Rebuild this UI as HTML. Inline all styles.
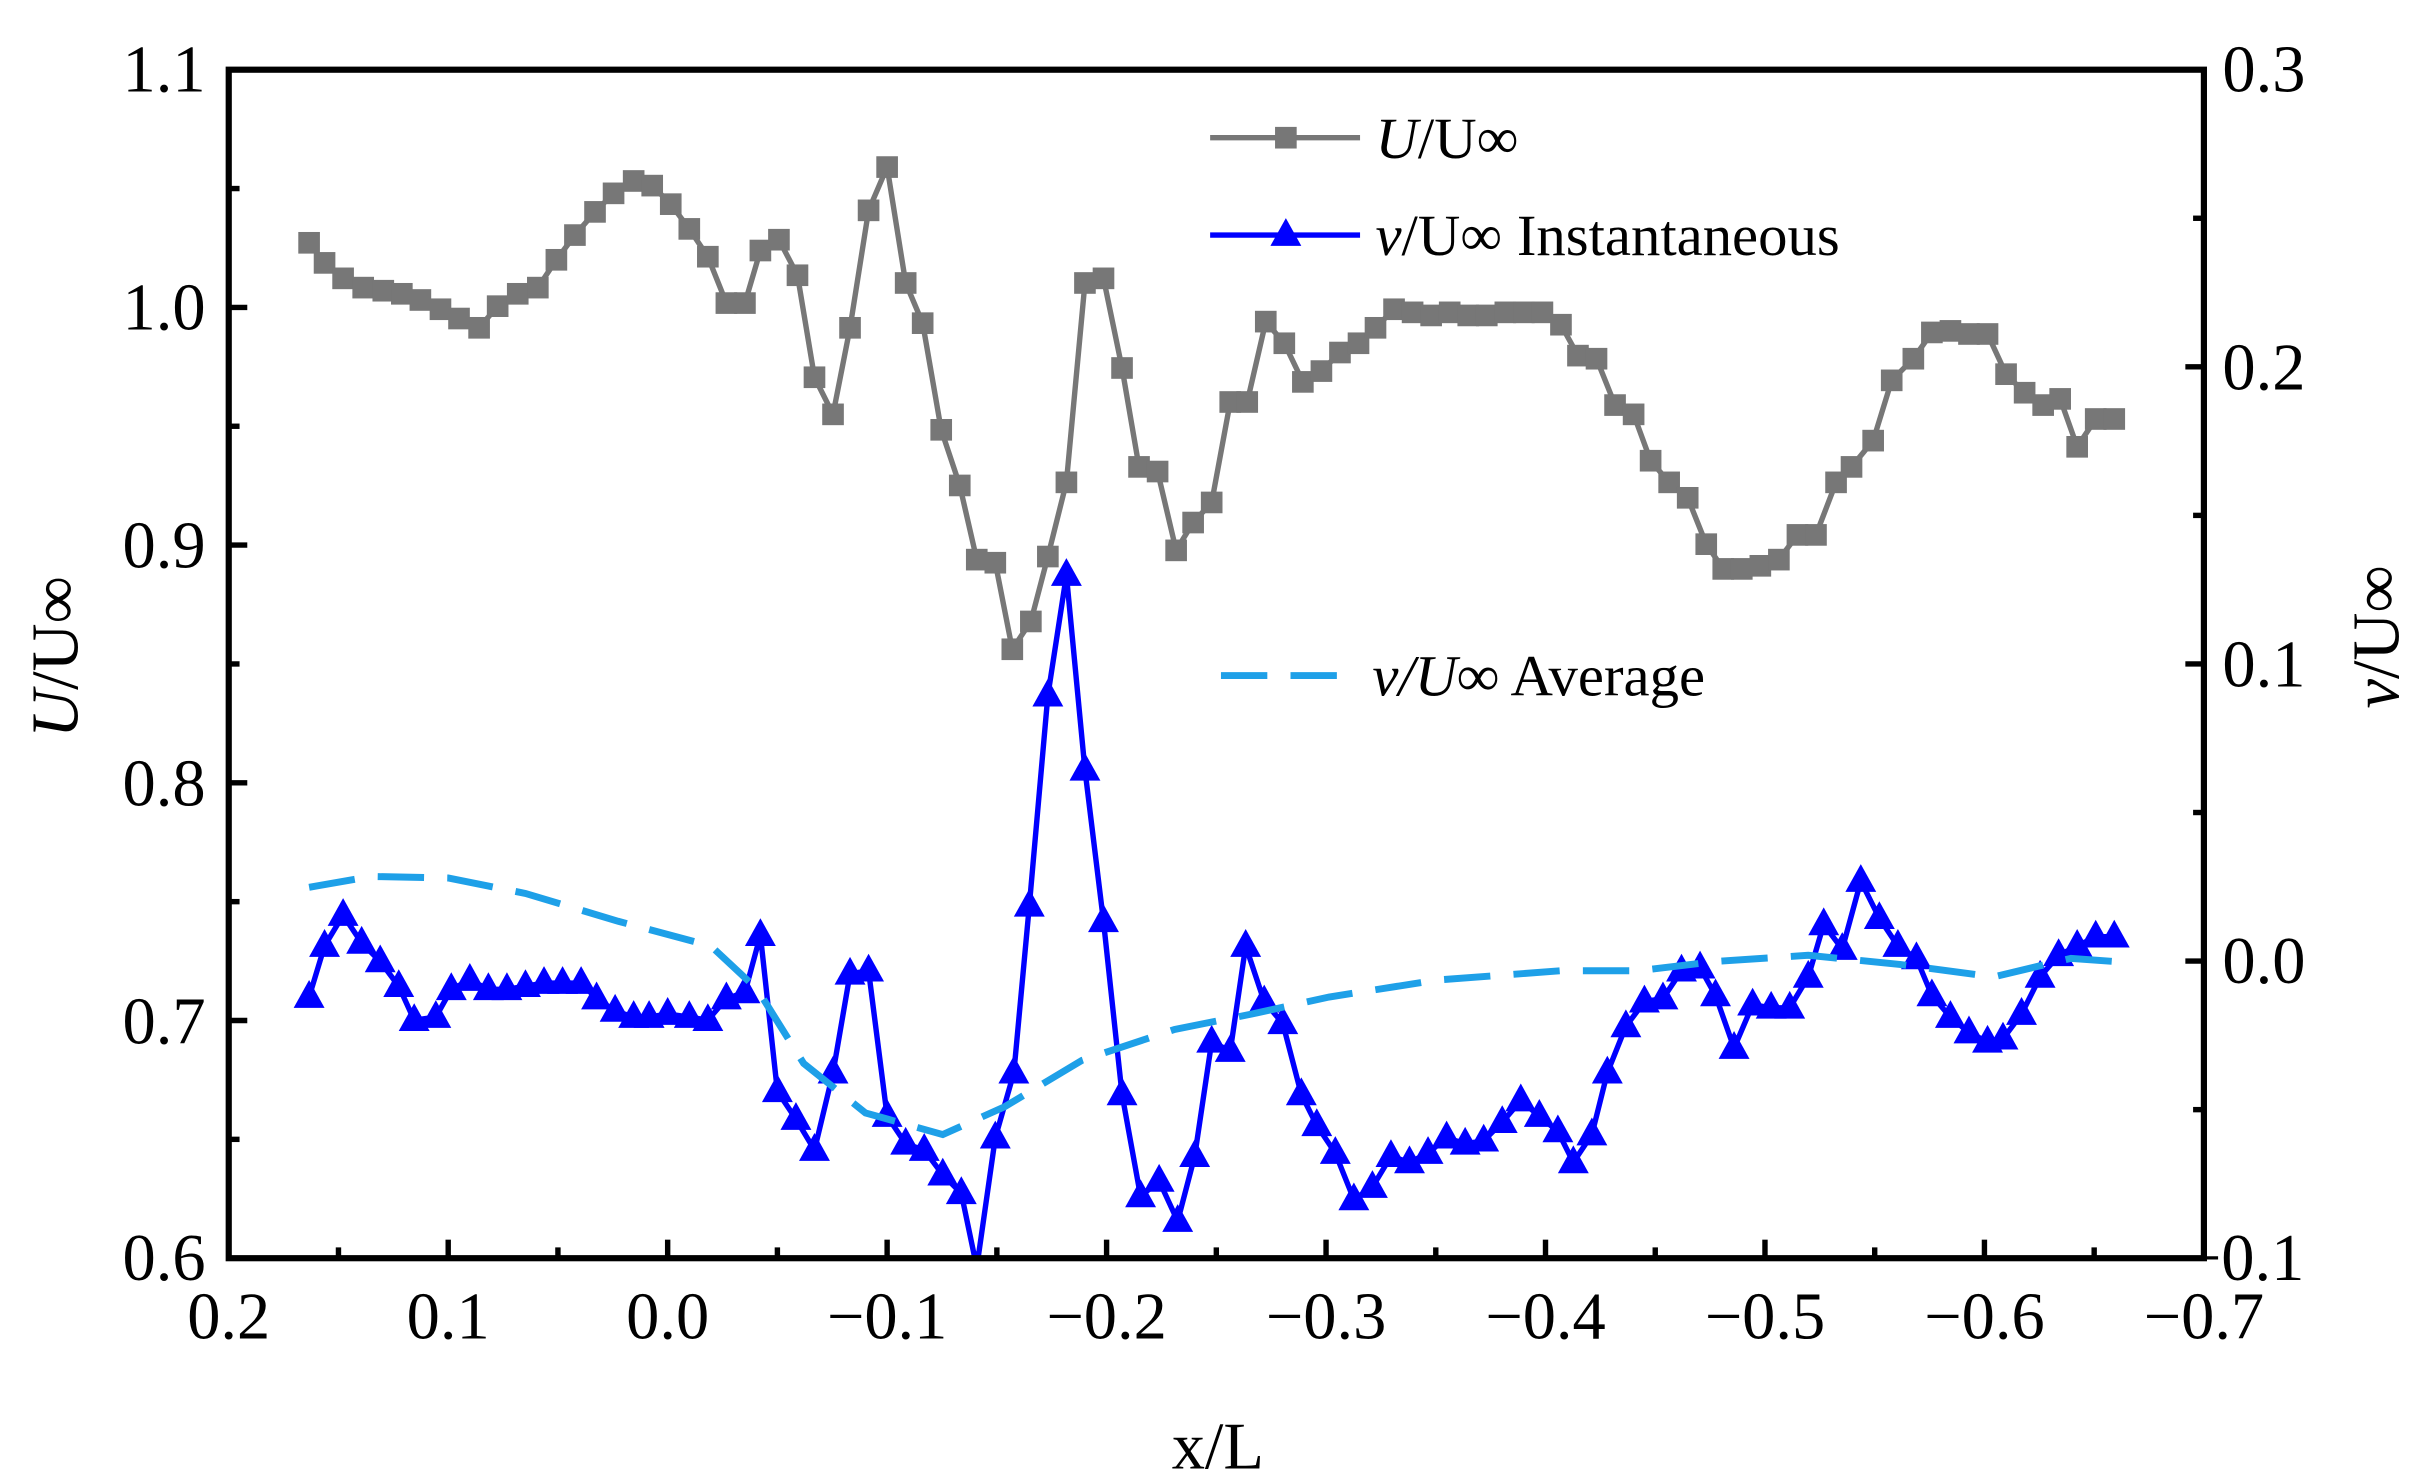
<!DOCTYPE html>
<html><head><meta charset="utf-8"><style>
html,body{margin:0;padding:0;background:#fff}
svg{display:block}
text{font-family:"Liberation Serif","DejaVu Serif",serif;fill:#000}
</style></head><body>
<svg id="s" width="2411" height="1484" viewBox="0 0 1560 960" xmlns="http://www.w3.org/2000/svg">
<rect x="0" y="0" width="1560" height="960" fill="#fff"/>
<g id="data"></g>
<rect x="148" y="45" width="1278" height="769" fill="none" stroke="#000" stroke-width="4"/>
<g id="ticks" stroke="#000" stroke-width="3.5"></g>
<g font-size="43">
<text x="133" y="59" text-anchor="end">1.1</text>
<text x="133" y="213" text-anchor="end">1.0</text>
<text x="133" y="367" text-anchor="end">0.9</text>
<text x="133" y="521" text-anchor="end">0.8</text>
<text x="133" y="675" text-anchor="end">0.7</text>
<text x="133" y="828" text-anchor="end">0.6</text>
<text x="1438" y="59">0.3</text>
<text x="1438" y="252">0.2</text>
<text x="1438" y="444">0.1</text>
<text x="1438" y="636">0.0</text>
<text x="1413" y="828">−0.1</text>
<text x="148" y="866" text-anchor="middle">0.2</text>
<text x="290" y="866" text-anchor="middle">0.1</text>
<text x="432" y="866" text-anchor="middle">0.0</text>
<text x="574" y="866" text-anchor="middle">−0.1</text>
<text x="716" y="866" text-anchor="middle">−0.2</text>
<text x="858" y="866" text-anchor="middle">−0.3</text>
<text x="1000" y="866" text-anchor="middle">−0.4</text>
<text x="1142" y="866" text-anchor="middle">−0.5</text>
<text x="1284" y="866" text-anchor="middle">−0.6</text>
<text x="1426" y="866" text-anchor="middle">−0.7</text>
<text x="788" y="950" text-anchor="middle">x/L</text>
<text transform="translate(50,425) rotate(-90)" text-anchor="middle"><tspan font-style="italic">U</tspan>/U∞</text>
<text transform="translate(1552,412) rotate(-90)" text-anchor="middle"><tspan font-style="italic">v</tspan>/U∞</text>
</g>
<g font-size="38">
<line x1="783" y1="89" x2="880" y2="89" stroke="#777" stroke-width="3.5"/>
<rect x="825" y="82" width="14" height="14" fill="#777"/>
<text x="890" y="102"><tspan font-style="italic">U</tspan>/U∞</text>
<line x1="783" y1="152" x2="880" y2="152" stroke="#0000ff" stroke-width="3.5"/>
<polygon points="832,141 842,159 822,159" fill="#0000ff"/>
<text x="890" y="165"><tspan font-style="italic">v</tspan>/U∞  Instantaneous</text>
<line x1="790" y1="437" x2="876" y2="437" stroke="#1ea0e8" stroke-width="4.5" stroke-dasharray="30,15"/>
<text x="888" y="450"><tspan font-style="italic">v/U∞</tspan>  Average</text>
</g>
</svg>
<script>
var NS="http://www.w3.org/2000/svg";
function el(t,a,p){var e=document.createElementNS(NS,t);for(var k in a)e.setAttribute(k,a[k]);p.appendChild(e);return e;}
var tk=document.getElementById("ticks");
for(var i=0;i<=10;i++){var y=45+i*76.9;var L=(i%2==0)?12:7;el("line",{x1:148,y1:y,x2:148+L,y2:y},tk);}
for(var i=0;i<=8;i++){var y=45+i*96.125;var L=(i%2==0)?12:7;el("line",{x1:1426,y1:y,x2:1426-L,y2:y},tk);}
for(var i=0;i<=18;i++){var x=148+i*71;var L=(i%2==0)?12:7;el("line",{x1:x,y1:814,x2:x,y2:814-L},tk);}
var d=document.getElementById("data");
var avg=[[200,574],[240,567],[290,568],[340,578],[400,596],[460,612],[490,640],[520,688],[560,720],[610,734],[650,716],[700,686],[760,666],[810,656],[860,645],[930,634],[1010,628],[1060,628],[1110,622],[1170,618],[1230,624],[1290,632],[1340,620],[1368,622]];
var g=[[200,157],[210,170],[222,180],[235,186],[248,188],[260,190],[272,194],[285,200],[297,206],[310,212],[322,198],[335,190],[348,186],[360,168],[372,152],[385,137],[397,125],[410,117],[422,120],[434,132],[446,148],[458,166],[470,196],[482,196],[492,162],[504,155],[516,178],[527,244],[539,268],[550,212],[562,136],[574,108],[586,183],[597,209],[609,278],[621,314],[632,362],[644,364],[655,420],[667,402],[678,360],[690,312],[702,183],[714,180],[726,238],[737,302],[749,305],[761,356],[772,338],[784,325],[796,260],[807,260],[819,208],[831,222],[843,247],[855,240],[867,228],[879,222],[890,212],[902,200],[914,202],[926,204],[938,202],[950,204],[962,204],[974,202],[986,202],[998,202],[1010,210],[1021,230],[1033,232],[1045,262],[1057,268],[1068,298],[1080,312],[1092,322],[1104,352],[1115,368],[1127,368],[1139,366],[1151,362],[1163,346],[1175,346],[1188,312],[1198,302],[1212,285],[1224,246],[1238,232],[1250,215],[1262,214],[1274,216],[1286,216],[1298,242],[1310,254],[1322,262],[1333,258],[1344,289],[1356,271],[1368,271]];
var b=[[200,645],[210,612],[222,592],[234,610],[246,622],[258,638],[268,660],[282,658],[292,640],[304,634],[316,640],[328,640],[340,638],[352,636],[364,636],[376,636],[386,646],[398,654],[410,658],[420,658],[432,656],[446,658],[458,660],[470,646],[482,642],[492,605],[503,706],[515,724],[527,744],[539,694],[550,630],[562,628],[574,722],[586,740],[598,744],[610,760],[622,772],[632,820],[644,736],[656,694],[666,586],[678,450],[690,372],[702,498],[714,596],[726,708],[738,774],[750,764],[762,790],[773,748],[784,674],[796,680],[806,612],[818,648],[830,662],[842,708],[852,728],[864,746],[876,776],[888,768],[900,748],[912,752],[924,746],[936,736],[948,740],[960,738],[972,726],[984,712],[996,722],[1008,732],[1018,752],[1030,734],[1040,694],[1052,664],[1064,648],[1076,646],[1088,628],[1100,626],[1110,644],[1122,678],[1134,650],[1146,652],[1158,652],[1170,632],[1180,598],[1192,614],[1204,570],[1216,594],[1228,612],[1240,620],[1250,644],[1262,658],[1274,668],[1286,674],[1296,672],[1308,656],[1320,632],[1332,618],[1344,612],[1356,606],[1368,606]];
function pts(a){return a.map(function(p){return p[0]+","+p[1]}).join(" ");}
var cp=el("clipPath",{id:"c"},d);el("rect",{x:148,y:45,width:1278,height:769},cp);
var gg=el("g",{"clip-path":"url(#c)"},d);
el("polyline",{points:pts(g),fill:"none",stroke:"#777","stroke-width":3.5},gg);
g.forEach(function(p){el("rect",{x:p[0]-7,y:p[1]-7,width:14,height:14,fill:"#777"},gg);});
el("polyline",{points:pts(b),fill:"none",stroke:"#0000ff","stroke-width":3.5},gg);
b.forEach(function(p){el("polygon",{points:(p[0])+","+(p[1]-11)+" "+(p[0]+10)+","+(p[1]+7)+" "+(p[0]-10)+","+(p[1]+7),fill:"#0000ff"},gg);});
el("polyline",{points:pts(avg),fill:"none",stroke:"#1ea0e8","stroke-width":4.5,"stroke-dasharray":"30,15"},gg);
</script>
</body></html>
